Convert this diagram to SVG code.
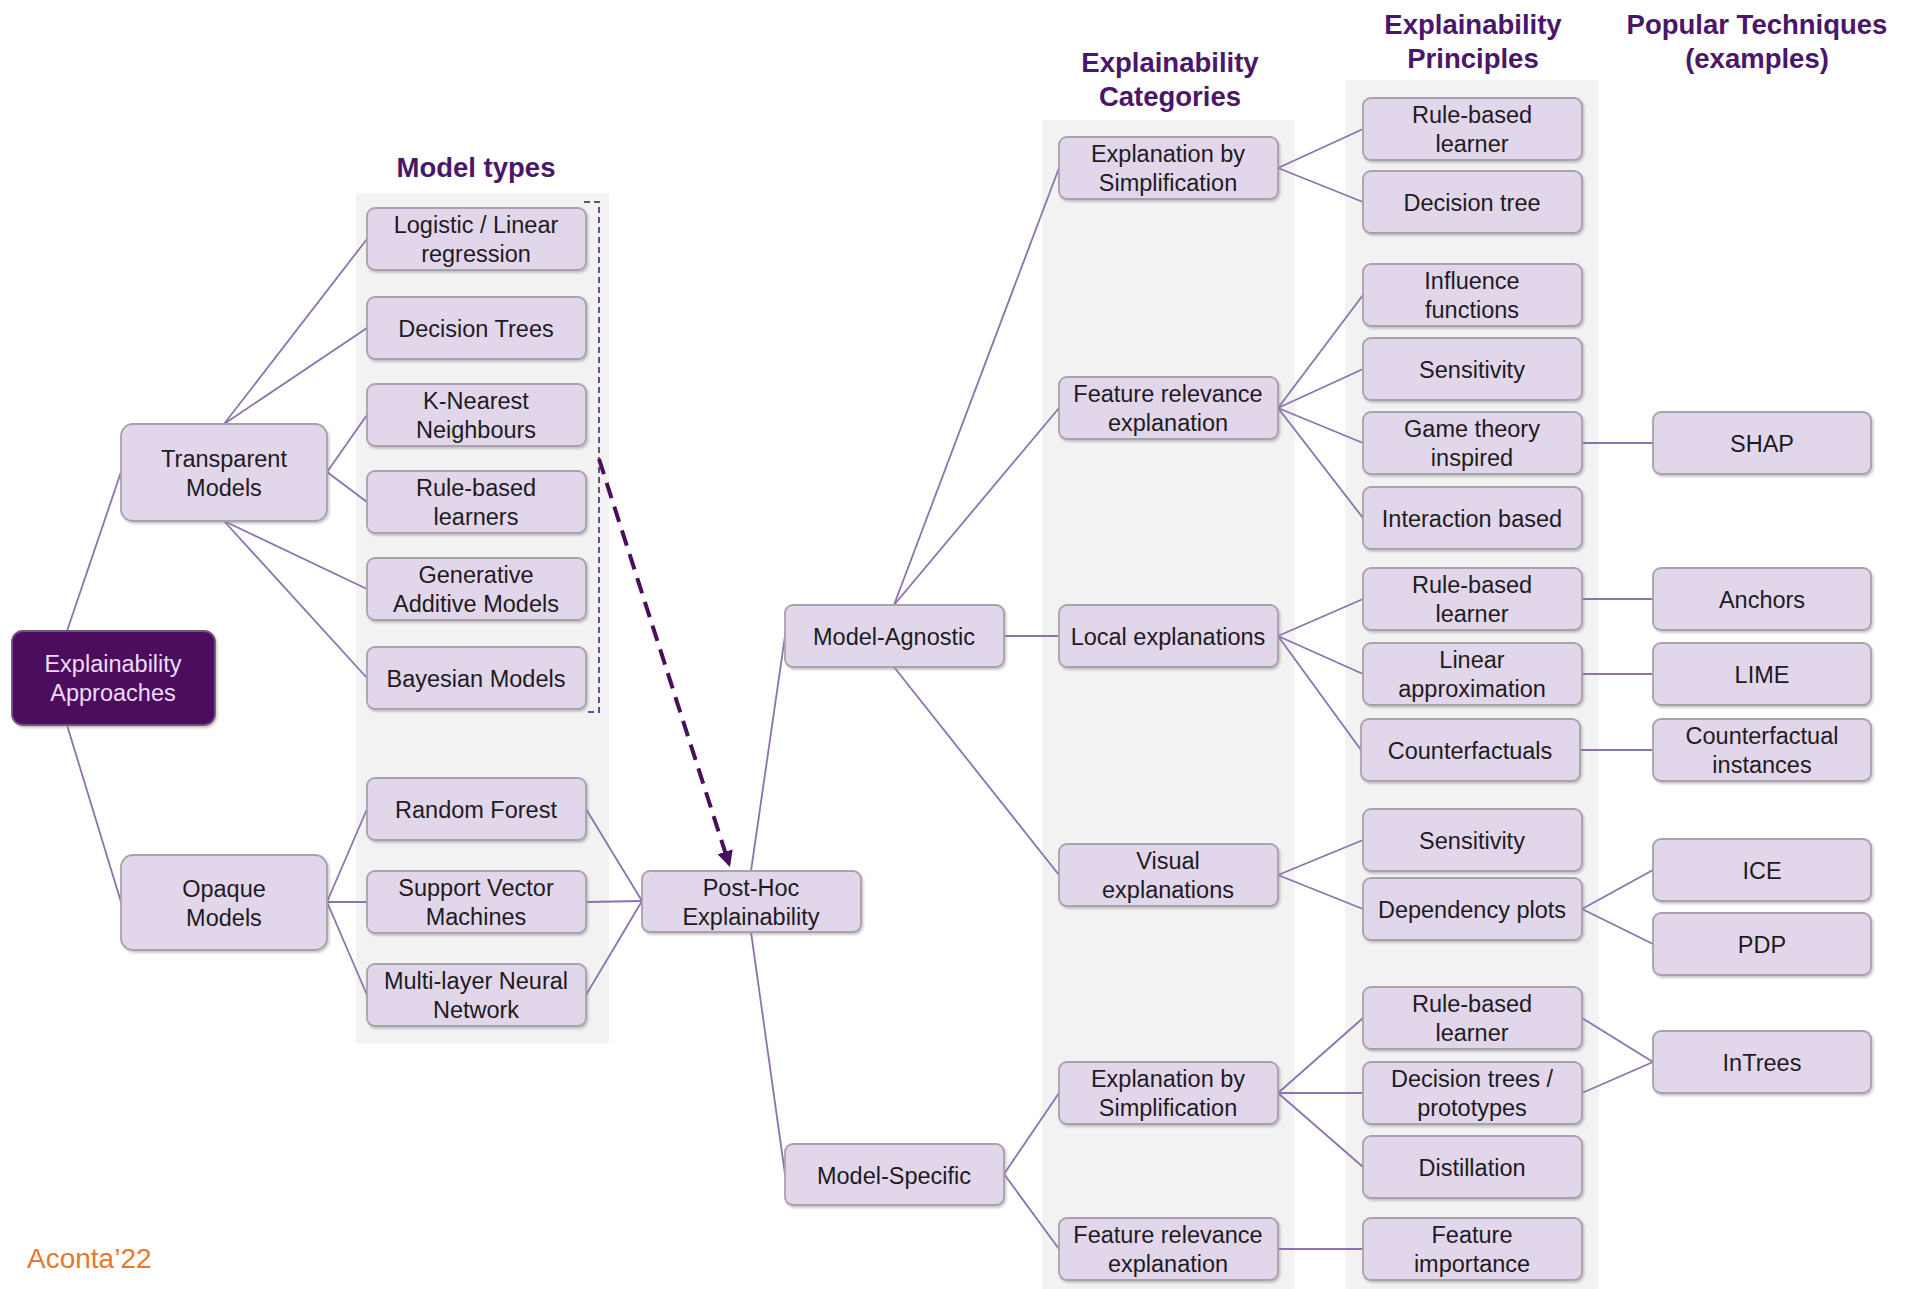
<svg xmlns="http://www.w3.org/2000/svg" width="1918" height="1289" viewBox="0 0 1918 1289">
<defs>
<filter id="sh" x="-10%" y="-10%" width="125%" height="130%"><feDropShadow dx="1.5" dy="2" stdDeviation="1.2" flood-color="#888" flood-opacity="0.45"/></filter>
<marker id="ah" viewBox="0 0 10 10" refX="8" refY="5" markerWidth="4" markerHeight="4" orient="auto"><path d="M0,0 L10,5 L0,10 Z" fill="#4A0E5C"/></marker>
<style>
.pan{fill:#F2F2F2}
.nd rect{fill:#E2D6EB;stroke:#A7A2AD;stroke-width:1.8;filter:url(#sh)}
.nd text{font-family:"Liberation Sans",Arial,sans-serif;font-size:23.5px;fill:#1E1B22;text-anchor:middle}
.dk rect{fill:#4E0E5E;stroke:#6E5578}
.dk text{fill:#ECDDF2}
.hd{font-family:"Liberation Sans",Arial,sans-serif;font-weight:bold;font-size:27.5px;fill:#4A1669;text-anchor:middle}
.cn line,.cn polyline{stroke:#8C73AE;stroke-width:1.8;fill:none}
</style>
</defs>
<rect width="1918" height="1289" fill="#FFFFFF"/>
<!-- panels -->
<rect class="pan" x="356" y="193" width="253" height="850"/>
<rect class="pan" x="1042" y="120" width="253" height="1169"/>
<rect class="pan" x="1345" y="80" width="254" height="1209"/>
<!-- headers -->
<text class="hd" x="476" y="177">Model types</text>
<text class="hd" x="1170" y="72">Explainability</text>
<text class="hd" x="1170" y="106">Categories</text>
<text class="hd" x="1473" y="34">Explainability</text>
<text class="hd" x="1473" y="68">Principles</text>
<text class="hd" x="1757" y="34">Popular Techniques</text>
<text class="hd" x="1757" y="68">(examples)</text>
<!-- connectors -->
<g id="connectors" class="cn">
<line x1="67" y1="631" x2="121" y2="472"/>
<line x1="67" y1="725" x2="121" y2="902"/>
<line x1="224" y1="424" x2="367" y2="239"/>
<line x1="224" y1="424" x2="367" y2="328"/>
<line x1="327" y1="472" x2="367" y2="415"/>
<line x1="327" y1="472" x2="367" y2="502"/>
<line x1="224" y1="521" x2="367" y2="589"/>
<line x1="224" y1="521" x2="367" y2="678"/>
<line x1="327" y1="902" x2="367" y2="809"/>
<line x1="327" y1="902" x2="367" y2="902"/>
<line x1="327" y1="902" x2="367" y2="995"/>
<line x1="586" y1="809" x2="642" y2="901"/>
<line x1="586" y1="902" x2="642" y2="901"/>
<line x1="586" y1="995" x2="642" y2="901"/>
<line x1="751" y1="871" x2="785" y2="636"/>
<line x1="751" y1="932" x2="785" y2="1174"/>
<line x1="894" y1="605" x2="1059" y2="168"/>
<line x1="894" y1="605" x2="1059" y2="408"/>
<line x1="1004" y1="636" x2="1059" y2="636"/>
<line x1="894" y1="667" x2="1059" y2="875"/>
<line x1="1004" y1="1174" x2="1059" y2="1093"/>
<line x1="1004" y1="1174" x2="1059" y2="1249"/>
<line x1="1278" y1="168" x2="1363" y2="129"/>
<line x1="1278" y1="168" x2="1363" y2="202"/>
<line x1="1278" y1="408" x2="1363" y2="295"/>
<line x1="1278" y1="408" x2="1363" y2="369"/>
<line x1="1278" y1="408" x2="1363" y2="443"/>
<line x1="1278" y1="408" x2="1363" y2="518"/>
<line x1="1278" y1="636" x2="1363" y2="599"/>
<line x1="1278" y1="636" x2="1363" y2="674"/>
<line x1="1278" y1="636" x2="1361" y2="750"/>
<line x1="1278" y1="875" x2="1363" y2="840"/>
<line x1="1278" y1="875" x2="1363" y2="909"/>
<line x1="1278" y1="1093" x2="1363" y2="1018"/>
<line x1="1278" y1="1093" x2="1363" y2="1093"/>
<line x1="1278" y1="1093" x2="1363" y2="1167"/>
<line x1="1278" y1="1249" x2="1363" y2="1249"/>
<line x1="1582" y1="443" x2="1653" y2="443"/>
<line x1="1582" y1="599" x2="1653" y2="599"/>
<line x1="1582" y1="674" x2="1653" y2="674"/>
<line x1="1580" y1="750" x2="1653" y2="750"/>
<line x1="1582" y1="909" x2="1653" y2="870"/>
<line x1="1582" y1="909" x2="1653" y2="944"/>
<line x1="1582" y1="1018" x2="1653" y2="1062"/>
<line x1="1582" y1="1093" x2="1653" y2="1062"/>
<polyline points="584,202 599,202 599,712 584,712" style="stroke:#74468F;stroke-width:2;stroke-dasharray:6 4"/>
<line x1="599" y1="459" x2="729" y2="864" style="stroke:#4A0E5C;stroke-width:4;stroke-dasharray:16 9" marker-end="url(#ah)"/>
</g>
<!-- nodes -->
<g id="n-ea" class="nd dk"><rect x="12" y="631" width="203" height="94" rx="11"/><text x="113" y="672">Explainability</text><text x="113" y="701">Approaches</text></g>
<g id="n-transparent" class="nd"><rect x="121" y="424" width="206" height="97" rx="12"/><text x="224" y="467">Transparent</text><text x="224" y="496">Models</text></g>
<g id="n-opaque" class="nd"><rect x="121" y="855" width="206" height="95" rx="12"/><text x="224" y="897">Opaque</text><text x="224" y="926">Models</text></g>
<g id="n-logistic" class="nd"><rect x="367" y="208" width="219" height="62" rx="8"/><text x="476" y="233">Logistic / Linear</text><text x="476" y="262">regression</text></g>
<g id="n-dtrees" class="nd"><rect x="367" y="297" width="219" height="62" rx="8"/><text x="476" y="337">Decision Trees</text></g>
<g id="n-knn" class="nd"><rect x="367" y="384" width="219" height="62" rx="8"/><text x="476" y="409">K-Nearest</text><text x="476" y="438">Neighbours</text></g>
<g id="n-rule" class="nd"><rect x="367" y="471" width="219" height="62" rx="8"/><text x="476" y="496">Rule-based</text><text x="476" y="525">learners</text></g>
<g id="n-gam" class="nd"><rect x="367" y="558" width="219" height="62" rx="8"/><text x="476" y="583">Generative</text><text x="476" y="612">Additive Models</text></g>
<g id="n-bayes" class="nd"><rect x="367" y="647" width="219" height="62" rx="8"/><text x="476" y="687">Bayesian Models</text></g>
<g id="n-rf" class="nd"><rect x="367" y="778" width="219" height="62" rx="8"/><text x="476" y="818">Random Forest</text></g>
<g id="n-svm" class="nd"><rect x="367" y="871" width="219" height="62" rx="8"/><text x="476" y="896">Support Vector</text><text x="476" y="925">Machines</text></g>
<g id="n-mlnn" class="nd"><rect x="367" y="964" width="219" height="62" rx="8"/><text x="476" y="989">Multi-layer Neural</text><text x="476" y="1018">Network</text></g>
<g id="n-posthoc" class="nd"><rect x="642" y="871" width="219" height="61" rx="8"/><text x="751" y="896">Post-Hoc</text><text x="751" y="925">Explainability</text></g>
<g id="n-agnostic" class="nd"><rect x="785" y="605" width="219" height="62" rx="8"/><text x="894" y="645">Model-Agnostic</text></g>
<g id="n-specific" class="nd"><rect x="785" y="1144" width="219" height="61" rx="8"/><text x="894" y="1184">Model-Specific</text></g>
<g id="n-ebs1" class="nd"><rect x="1059" y="137" width="219" height="62" rx="8"/><text x="1168" y="162">Explanation by</text><text x="1168" y="191">Simplification</text></g>
<g id="n-fre1" class="nd"><rect x="1059" y="377" width="219" height="62" rx="8"/><text x="1168" y="402">Feature relevance</text><text x="1168" y="431">explanation</text></g>
<g id="n-local" class="nd"><rect x="1059" y="605" width="219" height="62" rx="8"/><text x="1168" y="645">Local explanations</text></g>
<g id="n-visual" class="nd"><rect x="1059" y="844" width="219" height="62" rx="8"/><text x="1168" y="869">Visual</text><text x="1168" y="898">explanations</text></g>
<g id="n-ebs2" class="nd"><rect x="1059" y="1062" width="219" height="62" rx="8"/><text x="1168" y="1087">Explanation by</text><text x="1168" y="1116">Simplification</text></g>
<g id="n-fre2" class="nd"><rect x="1059" y="1218" width="219" height="62" rx="8"/><text x="1168" y="1243">Feature relevance</text><text x="1168" y="1272">explanation</text></g>
<g id="n-rbl1" class="nd"><rect x="1363" y="98" width="219" height="62" rx="8"/><text x="1472" y="123">Rule-based</text><text x="1472" y="152">learner</text></g>
<g id="n-dt1" class="nd"><rect x="1363" y="171" width="219" height="62" rx="8"/><text x="1472" y="211">Decision tree</text></g>
<g id="n-infl" class="nd"><rect x="1363" y="264" width="219" height="62" rx="8"/><text x="1472" y="289">Influence</text><text x="1472" y="318">functions</text></g>
<g id="n-sens1" class="nd"><rect x="1363" y="338" width="219" height="62" rx="8"/><text x="1472" y="378">Sensitivity</text></g>
<g id="n-game" class="nd"><rect x="1363" y="412" width="219" height="62" rx="8"/><text x="1472" y="437">Game theory</text><text x="1472" y="466">inspired</text></g>
<g id="n-inter" class="nd"><rect x="1363" y="487" width="219" height="62" rx="8"/><text x="1472" y="527">Interaction based</text></g>
<g id="n-rbl2" class="nd"><rect x="1363" y="568" width="219" height="62" rx="8"/><text x="1472" y="593">Rule-based</text><text x="1472" y="622">learner</text></g>
<g id="n-lin" class="nd"><rect x="1363" y="643" width="219" height="62" rx="8"/><text x="1472" y="668">Linear</text><text x="1472" y="697">approximation</text></g>
<g id="n-cf" class="nd"><rect x="1361" y="719" width="219" height="62" rx="8"/><text x="1470" y="759">Counterfactuals</text></g>
<g id="n-sens2" class="nd"><rect x="1363" y="809" width="219" height="62" rx="8"/><text x="1472" y="849">Sensitivity</text></g>
<g id="n-dep" class="nd"><rect x="1363" y="878" width="219" height="62" rx="8"/><text x="1472" y="918">Dependency plots</text></g>
<g id="n-rbl3" class="nd"><rect x="1363" y="987" width="219" height="62" rx="8"/><text x="1472" y="1012">Rule-based</text><text x="1472" y="1041">learner</text></g>
<g id="n-dtp" class="nd"><rect x="1363" y="1062" width="219" height="62" rx="8"/><text x="1472" y="1087">Decision trees /</text><text x="1472" y="1116">prototypes</text></g>
<g id="n-dist" class="nd"><rect x="1363" y="1136" width="219" height="62" rx="8"/><text x="1472" y="1176">Distillation</text></g>
<g id="n-fi" class="nd"><rect x="1363" y="1218" width="219" height="62" rx="8"/><text x="1472" y="1243">Feature</text><text x="1472" y="1272">importance</text></g>
<g id="n-shap" class="nd"><rect x="1653" y="412" width="218" height="62" rx="8"/><text x="1762" y="452">SHAP</text></g>
<g id="n-anchors" class="nd"><rect x="1653" y="568" width="218" height="62" rx="8"/><text x="1762" y="608">Anchors</text></g>
<g id="n-lime" class="nd"><rect x="1653" y="643" width="218" height="62" rx="8"/><text x="1762" y="683">LIME</text></g>
<g id="n-ci" class="nd"><rect x="1653" y="719" width="218" height="62" rx="8"/><text x="1762" y="744">Counterfactual</text><text x="1762" y="773">instances</text></g>
<g id="n-ice" class="nd"><rect x="1653" y="839" width="218" height="62" rx="8"/><text x="1762" y="879">ICE</text></g>
<g id="n-pdp" class="nd"><rect x="1653" y="913" width="218" height="62" rx="8"/><text x="1762" y="953">PDP</text></g>
<g id="n-intrees" class="nd"><rect x="1653" y="1031" width="218" height="62" rx="8"/><text x="1762" y="1071">InTrees</text></g>
<text x="27" y="1268" style="font-family:'Liberation Sans',Arial,sans-serif;font-size:28px;fill:#E8772E">Aconta’22</text>
</svg>
